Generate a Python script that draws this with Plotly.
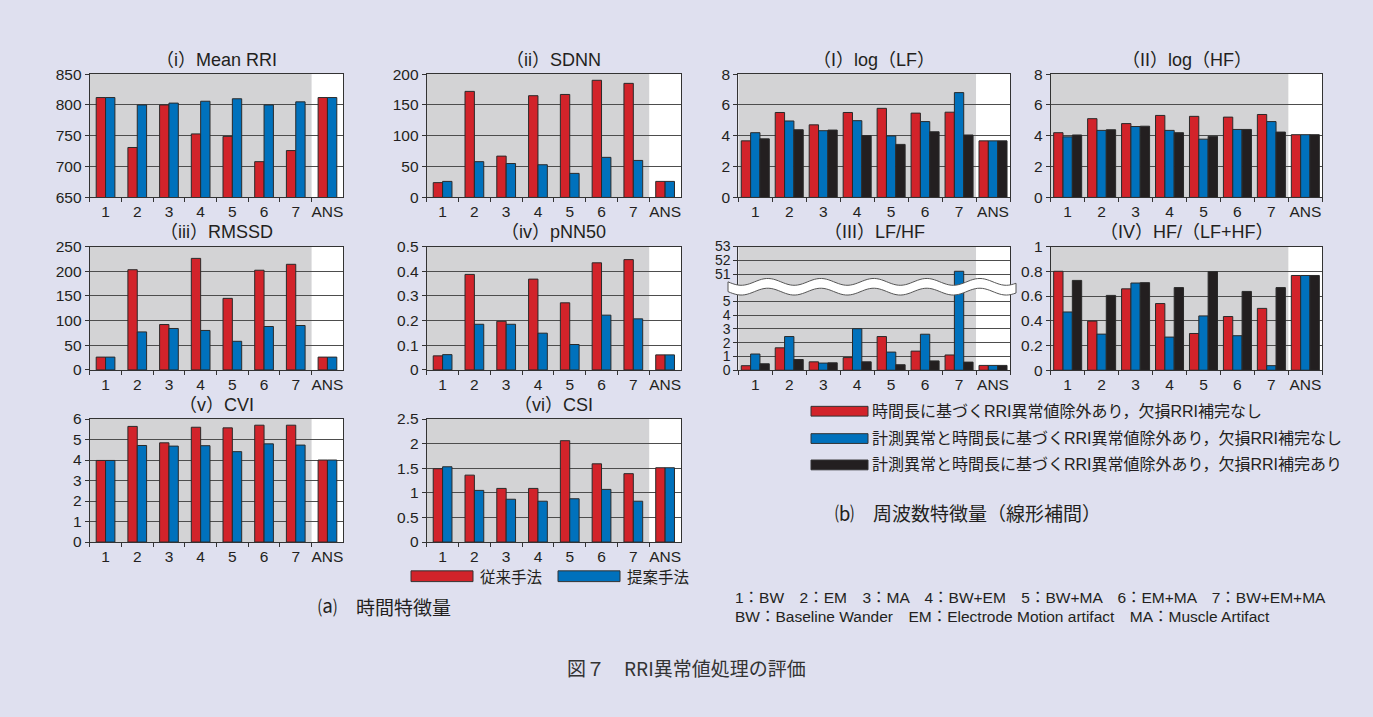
import math
import plotly.graph_objects as go

W, H = 1373, 717

cats = ['1', '2', '3', '4', '5', '6', '7', 'ANS']

# (a) time-domain features: conventional (red) / proposed (blue)
mean_rri_conv = [812, 731, 800, 753, 749, 708, 726, 812]
mean_rri_prop = [812, 800, 803, 806, 810, 800, 805, 812]
sdnn_conv = [24, 172, 67, 165, 167, 190, 185, 26]
sdnn_prop = [26, 58, 55, 53, 39, 65, 60, 26]
rmssd_conv = [26, 203, 92, 226, 145, 202, 214, 26]
rmssd_prop = [26, 77, 84, 80, 58, 88, 90, 26]
pnn50_conv = [0.057, 0.387, 0.197, 0.368, 0.272, 0.434, 0.447, 0.061]
pnn50_prop = [0.062, 0.185, 0.185, 0.149, 0.103, 0.222, 0.207, 0.061]
cvi_conv = [3.98, 5.64, 4.84, 5.60, 5.57, 5.70, 5.70, 4.0]
cvi_prop = [3.98, 4.71, 4.68, 4.70, 4.41, 4.79, 4.73, 4.0]
csi_conv = [1.49, 1.36, 1.09, 1.09, 2.06, 1.59, 1.39, 1.51]
csi_prop = [1.53, 1.05, 0.87, 0.83, 0.88, 1.07, 0.83, 1.51]

# (b) frequency-domain features: three processing variants
loglf_a = [3.67, 5.51, 4.71, 5.51, 5.78, 5.47, 5.53, 3.67]
loglf_b = [4.20, 4.96, 4.33, 4.98, 3.99, 4.92, 6.80, 3.67]
loglf_c = [3.80, 4.39, 4.37, 4.01, 3.44, 4.26, 4.05, 3.67]
loghf_a = [4.20, 5.11, 4.79, 5.32, 5.26, 5.21, 5.38, 4.07]
loghf_b = [3.93, 4.35, 4.60, 4.35, 3.78, 4.41, 4.92, 4.07]
loghf_c = [4.05, 4.39, 4.62, 4.20, 3.97, 4.41, 4.24, 4.07]
lfhf_a = [0.33, 1.63, 0.61, 0.92, 2.45, 1.39, 1.11, 0.35]
lfhf_b = [1.18, 2.45, 0.52, 3.02, 1.32, 2.62, 51.2, 0.35]
lfhf_c = [0.47, 0.78, 0.54, 0.61, 0.40, 0.68, 0.59, 0.35]
hfr_a = [0.80, 0.397, 0.658, 0.539, 0.297, 0.434, 0.50, 0.766]
hfr_b = [0.471, 0.292, 0.705, 0.268, 0.439, 0.279, 0.037, 0.766]
hfr_c = [0.726, 0.605, 0.708, 0.668, 0.797, 0.637, 0.668, 0.766]

# broken axis for LF/HF: 0..5 shown as-is, 51..53 shown at 7..9
lfhf_ticks = [0, 1, 2, 3, 4, 5, 51, 52, 53]


def brk(v):
    return v if v <= 5.5 else v - 44


legend_a = ['従来手法', '提案手法']
legend_b = ['時間長に基づくRRI異常値除外あり，欠損RRI補完なし',
            '計測異常と時間長に基づくRRI異常値除外あり，欠損RRI補完なし',
            '計測異常と時間長に基づくRRI異常値除外あり，欠損RRI補完あり']

RED, BLUE, BLACK = '#d2232a', '#0071bc', '#231f20'
TXT = '#231f20'
LAT = 'Liberation Sans, Arial, Noto Sans CJK JP'
JP = 'Noto Sans CJK JP'


def px(x):
    return x / W


def py(y):
    return 1 - y / H


panels = [
    dict(rect=(89.7, 66.7, 343.3, 193), title='（i）Mean RRI', rng=(650, 850),
         tv=[650, 700, 750, 800, 850], series=[mean_rri_conv, mean_rri_prop]),
    dict(rect=(426.7, 66.7, 681, 193), title='（ii）SDNN', rng=(0, 200),
         tv=[0, 50, 100, 150, 200], series=[sdnn_conv, sdnn_prop]),
    dict(rect=(89.7, 243.3, 343.3, 369.7), title='（iii）RMSSD', rng=(0, 250),
         tv=[0, 50, 100, 150, 200, 250], series=[rmssd_conv, rmssd_prop]),
    dict(rect=(426.7, 243.3, 681, 369.7), title='（iv）pNN50', rng=(0, 0.5),
         tv=[0, 0.1, 0.2, 0.3, 0.4, 0.5], series=[pnn50_conv, pnn50_prop]),
    dict(rect=(89.7, 420, 343.3, 546), title='（v）CVI', rng=(0, 6),
         tv=[0, 1, 2, 3, 4, 5, 6], series=[cvi_conv, cvi_prop]),
    dict(rect=(426.7, 420, 681, 546), title='（vi）CSI', rng=(0, 2.5),
         tv=[0, 0.5, 1, 1.5, 2, 2.5], series=[csi_conv, csi_prop]),
    dict(rect=(738.3, 66.7, 1010, 193), title='（I）log（LF）', rng=(0, 8),
         tv=[0, 2, 4, 6, 8], series=[loglf_a, loglf_b, loglf_c]),
    dict(rect=(1050.7, 66.7, 1322.3, 193), title='（II）log（HF）', rng=(0, 8),
         tv=[0, 2, 4, 6, 8], series=[loghf_a, loghf_b, loghf_c]),
    dict(rect=(738.3, 243.3, 1010, 370), title='（III）LF/HF', rng=(0, 9),
         tv=[brk(t) for t in lfhf_ticks], tt=[str(t) for t in lfhf_ticks],
         series=[[brk(v) for v in lfhf_a], [brk(v) for v in lfhf_b], [brk(v) for v in lfhf_c]],
         tfs=14),
    dict(rect=(1050.7, 243.3, 1322.3, 370), title='（IV）HF/（LF+HF）', rng=(0, 1),
         tv=[0, 0.2, 0.4, 0.6, 0.8, 1], tt=['0', '0.2', '0.4', '0.6', '0.8', '1'],
         series=[hfr_a, hfr_b, hfr_c]),
]

fig = go.Figure()
layout = dict(width=W, height=H, autosize=False, margin=dict(l=0, r=0, t=0, b=0),
              paper_bgcolor='#dfe0ef', plot_bgcolor='#ffffff', barmode='overlay',
              showlegend=False, font=dict(family=LAT, color=TXT))
shapes = []
annotations = []

for k, p in enumerate(panels, start=1):
    x0, y0, x1, y1 = p['rect']
    sx = '' if k == 1 else str(k)
    xa, ya = 'x' + sx, 'y' + sx
    tfs = p.get('tfs', 15.5)
    layout['xaxis' + sx] = dict(
        domain=[px(x0), px(x1)], anchor=ya, type='category',
        categoryorder='array', categoryarray=cats, range=[-0.5, 7.5],
        tickson='boundaries', ticks='outside', ticklen=4, tickcolor='#333333',
        tickangle=0,
        showline=True, linecolor='#333333', linewidth=1, mirror=True,
        showgrid=False, tickfont=dict(size=15.5, family=LAT, color=TXT), fixedrange=True)
    yax = dict(
        domain=[py(y1), py(y0)], anchor=xa, range=list(p['rng']),
        tickmode='array', tickvals=p['tv'],
        ticks='outside', ticklen=4, tickcolor='#333333',
        showline=True, linecolor='#333333', linewidth=1, mirror=True,
        showgrid=True, gridcolor='#4d4d4d', gridwidth=1, zeroline=False,
        tickfont=dict(size=tfs, family=LAT, color=TXT), fixedrange=True)
    if 'tt' in p:
        yax['ticktext'] = p['tt']
    layout['yaxis' + sx] = yax

    # grey background for cases 1-7 (ANS column stays white)
    shapes.append(dict(type='rect', xref=xa, yref=ya + ' domain', x0=-0.5, x1=6.5,
                       y0=0, y1=1, fillcolor='#d3d3d5', line=dict(width=0), layer='below'))

    n = len(p['series'])
    if n == 2:
        w = 0.295
        offs = [-0.295, 0.0]
        cols = [RED, BLUE]
    else:
        w = 0.275
        offs = [-0.4125, -0.1375, 0.1375]
        cols = [RED, BLUE, BLACK]
    for s, vals in enumerate(p['series']):
        fig.add_trace(go.Bar(x=cats, y=vals, xaxis=xa, yaxis=ya, width=w, offset=offs[s],
                             marker=dict(color=cols[s], line=dict(color='#2a2a2a', width=1)),
                             showlegend=False))

    cy = y0 - 14.5
    annotations.append(dict(text=p['title'], xref='paper', yref='paper',
                            x=px((x0 + x1) / 2), y=py(cy), xanchor='center', yanchor='middle',
                            showarrow=False, font=dict(size=18, family=LAT, color=TXT)))

# wavy break band on LF/HF axis
bx0, bx1 = 728, 1016
per, amp = 53.0, 3.5
top_c, bot_c = 279.5, 289.5
npts = 120
top = []
bot = []
for i in range(npts + 1):
    x = bx0 + (bx1 - bx0) * i / npts
    d = amp * math.sin(2 * math.pi * (x - bx0) / per)
    top.append((x, top_c + d))
    bot.append((x, bot_c + d))
path = 'M ' + ' L '.join(f'{px(x):.5f},{py(y):.5f}' for x, y in top)
path += ' L ' + ' L '.join(f'{px(x):.5f},{py(y):.5f}' for x, y in reversed(bot)) + ' Z'
shapes.append(dict(type='path', xref='paper', yref='paper', path=path,
                   fillcolor='#ffffff', line=dict(color='#555555', width=1), layer='above'))

# legend (a)
for (bx, tx, col, lab) in [(411, 478, RED, legend_a[0]), (558, 625, BLUE, legend_a[1])]:
    shapes.append(dict(type='rect', xref='paper', yref='paper', x0=px(bx), x1=px(bx + 62),
                       y0=py(586.5), y1=py(575.5), fillcolor=col,
                       line=dict(color='#333333', width=1)))
    annotations.append(dict(text=lab, xref='paper', yref='paper', x=px(tx), y=py(581),
                            xanchor='left', yanchor='middle', showarrow=False,
                            font=dict(size=15.5, family=JP, color=TXT)))

# legend (b)
for (yy, col, lab) in [(412, RED, legend_b[0]), (440, BLUE, legend_b[1]), (467, BLACK, legend_b[2])]:
    shapes.append(dict(type='rect', xref='paper', yref='paper', x0=px(811), x1=px(868),
                       y0=py(yy + 5), y1=py(yy - 5), fillcolor=col,
                       line=dict(color='#333333', width=1)))
    annotations.append(dict(text=lab, xref='paper', yref='paper', x=px(870), y=py(yy),
                            xanchor='left', yanchor='middle', showarrow=False,
                            font=dict(size=16, family='Liberation Sans, ' + JP, color=TXT)))

annotations.append(dict(text='⒜　時間特徴量', xref='paper', yref='paper', x=px(316), y=py(612),
                        xanchor='left', yanchor='middle', showarrow=False,
                        font=dict(size=19, family=JP, color=TXT)))
annotations.append(dict(text='⒝　周波数特徴量（線形補間）', xref='paper', yref='paper', x=px(833),
                        y=py(516), xanchor='left', yanchor='middle', showarrow=False,
                        font=dict(size=19, family=JP, color=TXT)))
annotations.append(dict(text='1：BW　2：EM　3：MA　4：BW+EM　5：BW+MA　6：EM+MA　7：BW+EM+MA',
                        xref='paper', yref='paper', x=px(733), y=py(603),
                        xanchor='left', yanchor='middle', showarrow=False,
                        font=dict(size=15.5, family='Liberation Sans, ' + JP, color=TXT)))
annotations.append(dict(text='BW：Baseline Wander　EM：Electrode Motion artifact　MA：Muscle Artifact',
                        xref='paper', yref='paper', x=px(733), y=py(622),
                        xanchor='left', yanchor='middle', showarrow=False,
                        font=dict(size=15.5, family='Liberation Sans, ' + JP, color=TXT)))
annotations.append(dict(text='図７　RRI異常値処理の評価', xref='paper', yref='paper', x=px(686),
                        y=py(675), xanchor='center', yanchor='middle', showarrow=False,
                        font=dict(size=19, family=JP, color='#333333')))

layout['shapes'] = shapes
layout['annotations'] = annotations
fig.update_layout(**layout)
fig.write_html('out.html')
